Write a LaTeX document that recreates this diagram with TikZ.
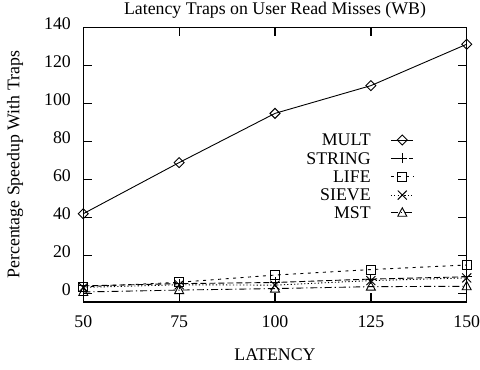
\documentclass[tikz,border=0pt]{standalone}
\usepackage{fontspec}
\setmainfont{Liberation Serif}
\usepackage{tikz}

\tikzset{
  mkdia/.pic={\draw[solid] (0pt,5pt) -- (5pt,0pt) -- (0pt,-5pt) -- (-5pt,0pt) -- cycle;},
  mkplus/.pic={\draw[solid] (-5pt,0pt) -- (5pt,0pt) (0pt,-5pt) -- (0pt,5pt);},
  mkbox/.pic={\draw[solid] (-4.5pt,-4.5pt) rectangle (4.5pt,4.5pt);},
  mkcross/.pic={\draw[solid] (-4.5pt,-4.5pt) -- (4.5pt,4.5pt) (-4.5pt,4.5pt) -- (4.5pt,-4.5pt);},
  mktri/.pic={\draw[solid] (0pt,5pt) -- (4.5pt,-3.5pt) -- (-4.5pt,-3.5pt) -- cycle;},
  lnmult/.style={solid},
  lnstring/.style={dash pattern=on 6pt off 3pt},
  lnlife/.style={dash pattern=on 3pt off 4.5pt},
  lnsieve/.style={dash pattern=on 1.2pt off 2.2pt},
  lnmst/.style={dash pattern=on 7pt off 3pt on 1.2pt off 3pt}
}

\begin{document}
\begin{tikzpicture}[x=3.834pt,y=1.9pt,font=\fontsize{17.8}{20}\selectfont,
  frame/.style={line width=1.3pt},
  ticklab/.style={inner sep=0pt},
  leglab/.style={anchor=east,inner sep=0pt}]
\useasboundingbox (28.273,-40.263) rectangle (153.47,154.474);

% frame and ticks
\draw[frame] (50,-4.5) rectangle (150,140);
\foreach \y in {0,20,...,120} {
  \draw[frame] (50,\y) -- ++(9pt,0pt);
  \draw[frame] (150,\y) -- ++(-9pt,0pt);
}
\foreach \y in {0,20,...,140}
  \node[ticklab,anchor=mid east] (ylab\y) at (46.8,\y) {\y};
\foreach \x in {75,100,125} {
  \draw[frame] (\x,-4.5) -- ++(0pt,9pt);
  \draw[frame] (\x,140) -- ++(0pt,-9pt);
}
\foreach \x in {50,75,...,150}
  \node[ticklab] (xlab\x) at (\x,-14.7) {\x};

% titles
\node (title) at (100,149.2) {Latency Traps on User Read Misses (WB)};
\node (xaxis) at (100,-32.4) {LATENCY};
\node[rotate=90] (yaxis) at (32.2,67.75) {Percentage Speedup With Traps};

% data
\draw[lnmult,line width=0.9pt] (50,42) -- (75,68.9) -- (100,94.8) -- (125,109.4) -- (150,131.2);
\foreach \p in {(50,42),(75,68.9),(100,94.8),(125,109.4),(150,131.2)}
  \pic[line width=0.9pt] at \p {mkdia};
\draw[lnstring,line width=0.9pt] (50,4) -- (75,5.2) -- (100,5.8) -- (125,7.6) -- (150,8.8);
\foreach \p in {(50,4),(75,5.2),(100,5.8),(125,7.6),(150,8.8)}
  \pic[line width=0.9pt] at \p {mkplus};
\draw[lnlife,line width=0.9pt] (50,3.5) -- (75,5.9) -- (100,9.7) -- (125,12.6) -- (150,15);
\foreach \p in {(50,3.5),(75,5.9),(100,9.7),(125,12.6),(150,15)}
  \pic[line width=0.9pt] at \p {mkbox};
\draw[lnsieve,line width=0.9pt] (50,3.2) -- (75,4.6) -- (100,4.4) -- (125,6.8) -- (150,8.2);
\foreach \p in {(50,3.2),(75,4.6),(100,4.4),(125,6.8),(150,8.2)}
  \pic[line width=0.9pt] at \p {mkcross};
\draw[lnmst,line width=0.9pt] (50,0.8) -- (75,1.8) -- (100,2.6) -- (125,3.6) -- (150,3.8);
\foreach \p in {(50,0.8),(75,1.8),(100,2.6),(125,3.6),(150,3.8)}
  \pic[line width=0.9pt] at \p {mktri};

% key
\node[leglab] (kmult) at (125,80.8) {MULT};
\node[leglab] (kstring) at (125,71.2) {STRING};
\node[leglab] (klife) at (125,61.5) {LIFE};
\node[leglab] (ksieve) at (125,51.8) {SIEVE};
\node[leglab] (kmst) at (125,42.5) {MST};
\coordinate (kmultA) at (130.2,80.8);  \coordinate (kmultB) at (136.1,80.8);
\coordinate (kstringA) at (130.2,71.2); \coordinate (kstringB) at (136.1,71.2);
\coordinate (klifeA) at (130.2,61.5);  \coordinate (klifeB) at (136.1,61.5);
\coordinate (ksieveA) at (130.2,51.8); \coordinate (ksieveB) at (136.1,51.8);
\coordinate (kmstA) at (130.2,42.5);   \coordinate (kmstB) at (136.1,42.5);
\draw[lnmult,line width=0.9pt] (kmultA) -- (kmultB);
\draw[lnstring,line width=0.9pt] (kstringA) -- (kstringB);
\draw[lnlife,line width=0.9pt] (klifeA) -- (klifeB);
\draw[lnsieve,line width=0.9pt] (ksieveA) -- (ksieveB);
\draw[lnmst,line width=0.9pt] (kmstA) -- (kmstB);
\pic[line width=0.9pt] at (133.2,80.8) {mkdia};
\pic[line width=0.9pt] at (133.2,71.2) {mkplus};
\pic[line width=0.9pt] at (133.2,61.5) {mkbox};
\pic[line width=0.9pt] at (133.2,51.8) {mkcross};
\pic[line width=0.9pt] at (133.2,42.5) {mktri};
\end{tikzpicture}
\end{document}
